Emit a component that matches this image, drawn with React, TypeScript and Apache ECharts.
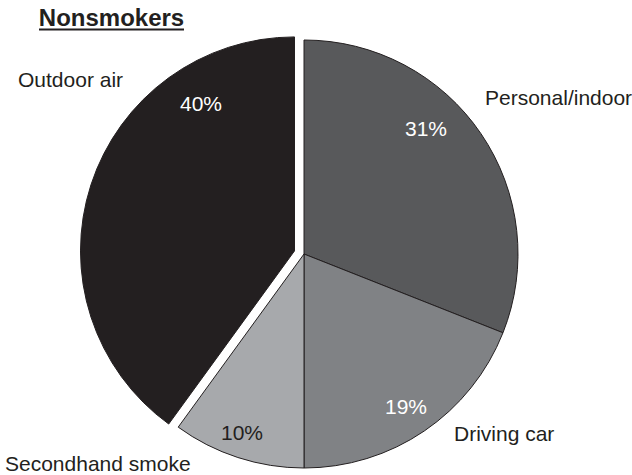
import React, { useEffect, useRef } from "react";
import * as echarts from "echarts";

const titleText = "Nonsmokers";
const categories = ["Personal/indoor", "Driving car", "Secondhand smoke", "Outdoor air"];
const values = [31, 19, 10, 40];
const explodedCategory = "Outdoor air";

const sliceColors = ["#58595b", "#808285", "#a7a9ac", "#231f20"];
const pctColors = ["#ffffff", "#ffffff", "#231f20", "#ffffff"];
const pctPositions: [number, number][] = [
  [426, 128],
  [406, 406],
  [242, 432],
  [201, 103],
];
const namePositions: [number, number][] = [
  [485, 97],
  [454, 433],
  [5, 463],
  [18, 79],
];

const FONT = "'Liberation Sans', Arial, Helvetica, sans-serif";

export default function App() {
  const ref = useRef<HTMLDivElement>(null);
  useEffect(() => {
    if (!ref.current) return;
    const chart = echarts.init(ref.current, undefined, { renderer: "svg" });
    const data = categories.map((name, i) => ({
      name,
      value: values[i],
      selected: name === explodedCategory,
      itemStyle: { color: sliceColors[i], borderColor: "#231f20", borderWidth: 1 },
      select: { itemStyle: { color: sliceColors[i], borderColor: "#231f20", borderWidth: 1 } },
    }));
    chart.setOption({
      animation: false,
      backgroundColor: "#ffffff",
      graphic: [
        {
          type: "text",
          x: 111.5,
          y: 17.7,
          z: 10,
          style: {
            text: titleText,
            font: `bold 24px ${FONT}`,
            fill: "#231f20",
            align: "center",
            verticalAlign: "middle",
          },
        },
        {
          type: "line",
          z: 10,
          shape: { x1: 39, y1: 29.5, x2: 184, y2: 29.5 },
          style: { stroke: "#231f20", lineWidth: 2 },
        },
        ...categories.map((name, i) => ({
          type: "text",
          x: namePositions[i][0],
          y: namePositions[i][1],
          z: 10,
          style: {
            text: name,
            font: `21px ${FONT}`,
            fill: "#231f20",
            align: "left",
            verticalAlign: "middle",
          },
        })),
        ...values.map((v, i) => ({
          type: "text",
          x: pctPositions[i][0],
          y: pctPositions[i][1],
          z: 10,
          style: {
            text: `${v}%`,
            font: `21px ${FONT}`,
            fill: pctColors[i],
            align: "center",
            verticalAlign: "middle",
          },
        })),
      ],
      series: [
        {
          type: "pie",
          center: [304, 254],
          radius: 214,
          startAngle: 90,
          clockwise: true,
          selectedMode: "single",
          selectedOffset: 10,
          avoidLabelOverlap: false,
          emphasis: { disabled: true },
          labelLine: { show: false },
          label: { show: false },
          data,
        },
      ],
    });
    return () => chart.dispose();
  }, []);
  return (
    <div
      ref={ref}
      style={{ position: "fixed", left: 0, top: 0, width: 632, height: 475 }}
    />
  );
}
